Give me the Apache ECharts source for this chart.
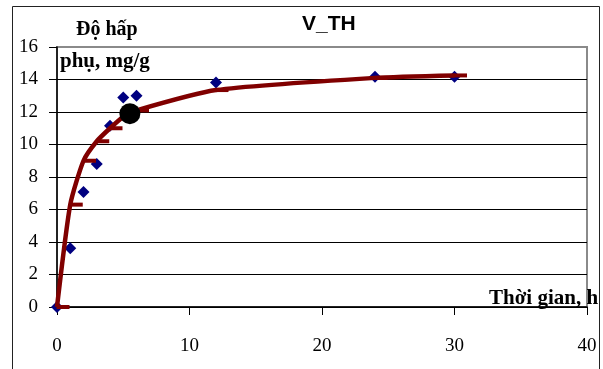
<!DOCTYPE html>
<html>
<head>
<meta charset="utf-8">
<script src="https://cdn.jsdelivr.net/npm/echarts@6/dist/echarts.min.js"></script>
<style>
html,body{margin:0;padding:0;background:#fff;}
#chart{width:603px;height:369px;}
</style>
</head>
<body>
<div id="chart"></div>
<script>
// Experimental points (diamonds)
var tExp = [0, 1, 2, 3, 4, 5, 6, 12, 24, 30];
var qExp = [0, 3.62, 7.07, 8.8, 11.15, 12.9, 13.0, 13.82, 14.17, 14.17];
// Model curve (dark red line with dash markers)
var tModel = [0, 1, 2, 3, 4, 5, 6, 12, 24, 30];
var qModel = [0, 6.3, 9.0, 10.2, 11.0, 11.7, 12.1, 13.35, 14.1, 14.25];
// Highlighted point (black circle)
var tMark = [5.5];
var qMark = [11.9];
// Axis ticks
var xTicks = [0, 10, 20, 30, 40];
var yTicks = [0, 2, 4, 6, 8, 10, 12, 14, 16];

var titleText = 'V_TH';
var yName1 = 'Độ hấp';
var yName2 = 'phụ, mg/g';
var xName = 'Thời gian, h';

function pairs(a, b) { return a.map(function (v, i) { return [v, b[i]]; }); }

var chart = echarts.init(document.getElementById('chart'), null, {renderer: 'canvas'});
var serif = '"Liberation Serif", "Times New Roman", serif';
var option = {
  animation: false,
  backgroundColor: '#fff',
  grid: {left: 57, top: 47, width: 530, height: 260, show: true, borderColor: '#8a8a8a', borderWidth: 2, backgroundColor: 'transparent'},
  xAxis: {
    type: 'value', min: xTicks[0], max: xTicks[xTicks.length - 1], interval: xTicks[1] - xTicks[0],
    axisLine: {show: true, onZero: false, lineStyle: {color: '#000', width: 1.5}},
    axisTick: {show: true, inside: false, length: 8, lineStyle: {color: '#000'}},
    axisLabel: {margin: 30, fontFamily: serif, fontSize: 19, color: '#000'},
    splitLine: {show: false}
  },
  yAxis: {
    type: 'value', min: yTicks[0], max: yTicks[yTicks.length - 1], interval: yTicks[1] - yTicks[0],
    axisLine: {show: true, onZero: false, lineStyle: {color: '#000', width: 1.5}},
    axisTick: {show: true, inside: false, length: 8, lineStyle: {color: '#000'}},
    axisLabel: {margin: 19, fontFamily: serif, fontSize: 19, color: '#000'},
    splitLine: {show: true, showMaxLine: false, lineStyle: {color: '#000', width: 1}}
  },
  graphic: [
    {type: 'rect', z: -10, shape: {x: 12.5, y: 6.5, width: 587, height: 420}, style: {fill: 'none', stroke: '#222', lineWidth: 1}},
    {type: 'text', left: 302, top: 14, z: 100, style: {text: titleText, font: 'bold 21px "Liberation Sans", Arial, sans-serif', fill: '#000'}},
    {type: 'text', left: 76, top: 20, z: 100, style: {text: yName1, font: 'bold 20px ' + serif, fill: '#000'}},
    {type: 'text', left: 60, top: 51, z: 100, style: {text: yName2, font: 'bold 21px ' + serif, fill: '#000'}},
    {type: 'text', left: 489, top: 288, z: 100, style: {text: xName, font: 'bold 21px ' + serif, fill: '#000'}}
  ],
  series: [
    {
      type: 'scatter', z: 2, data: pairs(tExp, qExp), symbol: 'diamond', symbolSize: 12,
      itemStyle: {color: '#000080', opacity: 1}
    },
    {
      type: 'line', z: 3, data: pairs(tModel, qModel), smooth: 0.2,
      showAllSymbol: true, symbol: 'rect', symbolSize: [13, 4], symbolOffset: [6, 0],
      lineStyle: {color: '#800000', width: 4.5}, itemStyle: {color: '#800000', borderWidth: 0, opacity: 1}
    },
    {
      type: 'scatter', z: 4, data: pairs(tMark, qMark), symbol: 'circle', symbolSize: 21,
      itemStyle: {color: '#000', opacity: 1}
    }
  ]
};
chart.setOption(option);
</script>
</body>
</html>
